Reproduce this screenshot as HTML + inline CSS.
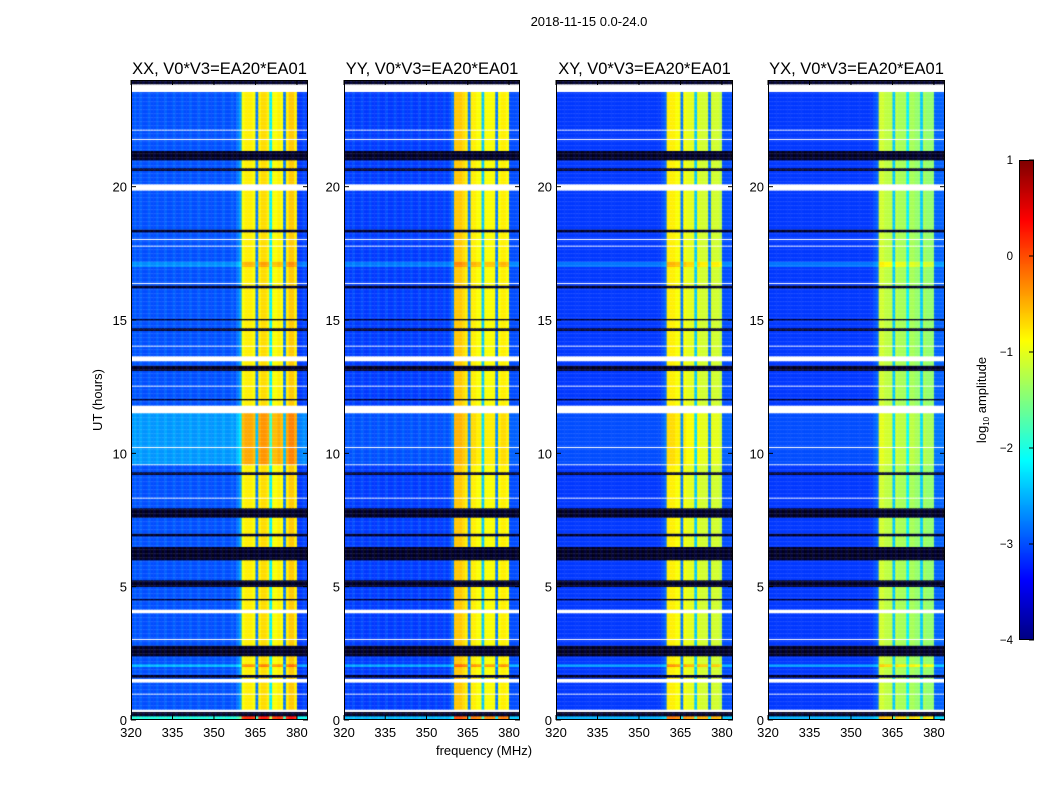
<!DOCTYPE html>
<html><head><meta charset="utf-8">
<style>
html,body{margin:0;padding:0;background:#fff;}
#wrap{position:relative;width:1050px;height:800px;overflow:hidden;font-family:"Liberation Sans","DejaVu Sans",sans-serif;}
canvas{position:absolute;}
svg{position:absolute;left:0;top:0;}
</style></head>
<body>
<div id="wrap">
<canvas id="c0" width="177" height="640" style="left:131px;top:80px"></canvas>
<canvas id="c1" width="176" height="640" style="left:344px;top:80px"></canvas>
<canvas id="c2" width="177" height="640" style="left:556px;top:80px"></canvas>
<canvas id="c3" width="177" height="640" style="left:768px;top:80px"></canvas>
<canvas id="cb" width="15" height="480" style="left:1019px;top:160px"></canvas>
<svg id="ov" width="1050" height="800"></svg>
</div>
<script>
// ---- data ----
const panelTitles = ["XX, V0*V3=EA20*EA01","YY, V0*V3=EA20*EA01","XY, V0*V3=EA20*EA01","YX, V0*V3=EA20*EA01"];
const xTicks = [320,335,350,365,380];
const yTicks = [0,5,10,15,20];
const cbTicks = [1,0,-1,-2,-3,-4];
const freqStart = 320, freqStep = 1, nChan = 64;
// channels 320..383
const levelXX = [-3.0,-2.9,-3.0,-2.9,-3.0,-3.0,-2.9,-3.0,-3.0,-2.9,-3.0,-3.0,-2.9,-3.0,-3.0,-2.9,-3.0,-3.0,-2.9,-3.0,-3.0,-2.9,-3.0,-3.0,-2.9,-3.0,-3.0,-2.9,-3.0,-3.0,-2.9,-3.0,-3.0,-2.9,-3.0,-3.0,-2.9,-3.0,-2.8,-2.6,
 -0.9,-0.8,-0.8,-0.8,-0.9,-2.8,-0.8,-0.7,-0.7,-0.8,-2.2,-0.9,-0.9,-0.8,-0.9,-2.8,-0.8,-0.6,-0.6,-0.8,-3.1,-3.1,-3.0,-3.1];
const levelYY = [-3.1,-3.0,-3.1,-3.0,-3.1,-3.1,-3.0,-3.1,-3.1,-3.0,-3.1,-3.1,-3.0,-3.1,-3.1,-3.0,-3.1,-3.1,-3.0,-3.1,-3.1,-3.0,-3.1,-3.1,-3.0,-3.1,-3.1,-3.0,-3.1,-3.1,-3.0,-3.1,-3.1,-3.0,-3.1,-3.1,-3.0,-3.1,-3.0,-2.8,
 -0.6,-0.6,-0.6,-0.7,-0.8,-2.8,-0.8,-0.8,-0.9,-0.9,-2.4,-0.9,-0.9,-0.9,-0.9,-2.8,-0.9,-0.8,-0.8,-0.9,-3.0,-3.0,-3.0,-3.0];
const levelXY = [-3.1,-3.1,-3.1,-3.1,-3.1,-3.1,-3.1,-3.1,-3.1,-3.1,-3.1,-3.1,-3.1,-3.1,-3.1,-3.1,-3.1,-3.1,-3.1,-3.1,-3.1,-3.1,-3.1,-3.1,-3.1,-3.1,-3.1,-3.1,-3.1,-3.1,-3.1,-3.1,-3.1,-3.1,-3.1,-3.1,-3.1,-3.1,-3.0,-2.9,
 -0.8,-0.8,-0.8,-0.9,-0.9,-2.8,-0.9,-1.0,-1.0,-1.0,-2.4,-1.0,-1.1,-1.1,-1.1,-2.8,-1.1,-1.1,-1.1,-1.2,-3.0,-3.0,-3.0,-3.0];
const levelYX = [-3.1,-3.1,-3.1,-3.1,-3.1,-3.1,-3.1,-3.1,-3.1,-3.1,-3.1,-3.1,-3.1,-3.1,-3.1,-3.1,-3.1,-3.1,-3.1,-3.1,-3.1,-3.1,-3.1,-3.1,-3.1,-3.1,-3.1,-3.1,-3.1,-3.1,-3.1,-3.1,-3.1,-3.1,-3.1,-3.1,-3.1,-3.1,-3.0,-2.9,
 -1.1,-1.1,-1.2,-1.2,-1.2,-2.4,-1.2,-1.3,-1.3,-1.3,-2.2,-1.3,-1.3,-1.4,-1.4,-2.4,-1.3,-1.4,-1.4,-1.4,-2.9,-2.9,-2.9,-2.9];
const panelLevels = [levelXX, levelYY, levelXY, levelYX];
const whiteIntervals = [[23.55,23.85],[22.1,22.17],[21.75,21.8],[19.85,20.1],[18.0,18.05],[17.75,17.8],[16.35,16.42],[14.0,14.05],[13.45,13.65],[12.5,12.55],[11.5,11.8],[10.2,10.26],[9.55,9.6],[8.3,8.35],[4.0,4.15],[3.0,3.05],[1.4,1.55],[0.95,1.0],[0.3,0.4]];
const darkIntervals = [[23.85,24],[21.0,21.35],[20.6,20.7],[18.3,18.4],[16.2,16.3],[15.0,15.05],[14.6,14.7],[13.1,13.3],[12.0,12.05],[9.2,9.3],[7.6,7.95],[6.9,7.0],[6.0,6.5],[5.0,5.25],[4.5,4.55],[2.4,2.8],[1.6,1.7],[0.15,0.3]];
const rowShiftsXX = [[9.6,11.5,0.35],[0.0,0.15,1.0],[2.0,2.1,0.5],[17.0,17.2,0.3]];
const rowShiftsOther = [[9.6,11.5,0.1],[0.0,0.15,0.6],[2.0,2.1,0.5],[17.0,17.2,0.3]];
const panelShifts = [rowShiftsXX, rowShiftsOther, rowShiftsOther, rowShiftsOther];
const tStart = 0, tEnd = 24, tStep = 0.05;

function jet(v){
  let t=(v+4)/5; t=Math.max(0,Math.min(1,t));
  const f=x=>Math.max(0,Math.min(1,x));
  const r=f(1.5-Math.abs(4*t-3)), g=f(1.5-Math.abs(4*t-2)), b=f(1.5-Math.abs(4*t-1));
  return `rgb(${Math.round(r*255)},${Math.round(g*255)},${Math.round(b*255)})`;
}
function inAny(list,t){return list.some(iv=>t>=iv[0]&&t<iv[1]);}
function shiftAt(list,t){let s=0;list.forEach(iv=>{if(t>=iv[0]&&t<iv[1])s+=iv[2];});return s;}

const panelX=[131,344,556,768], panelW=[177,176,177,177], topY=80, H=640;
const xScale=(i,f)=>(f-320)*panelW[i]/64;
const yScale=t=>H-(t-tStart)/(tEnd-tStart)*H;

panelLevels.forEach((lv,i)=>{
  const ctx=document.getElementById('c'+i).getContext('2d');
  const nRows=Math.round((tEnd-tStart)/tStep);
  for(let r=0;r<nRows;r++){
    const t0=tStart+r*tStep, tm=t0+tStep/2;
    const y1=yScale(t0+tStep), y0=yScale(t0);
    if(inAny(whiteIntervals,tm)) continue;
    const dark=inAny(darkIntervals,tm);
    const sh=shiftAt(panelShifts[i],tm);
    for(let c=0;c<nChan;c++){
      const f=freqStart+c*freqStep;
      const x0=xScale(i,f), x1=xScale(i,f+freqStep);
      ctx.fillStyle = dark ? (c%2? '#000018':'#00003a') : jet(lv[c]+sh);
      ctx.fillRect(x0,y1,x1-x0+0.5,y0-y1+0.3);
    }
  }
});
(function(){const ctx=document.getElementById('cb').getContext('2d');
for(let y=0;y<480;y++){ctx.fillStyle=jet(1-y/480*5);ctx.fillRect(0,y,15,1);}})();

const NS='http://www.w3.org/2000/svg', svg=document.getElementById('ov');
function el(tag,attrs,text){const e=document.createElementNS(NS,tag);for(const k in attrs)e.setAttribute(k,attrs[k]);if(text!==undefined)e.textContent=text;svg.appendChild(e);return e;}
let e;
e=el('text',{x:589,y:26,'font-size':13,'text-anchor':'middle',fill:'#000'},'2018-11-15 0.0-24.0');


panelTitles.forEach((ttl,i)=>{
  const x0=panelX[i], w=panelW[i];
  e=el('text',{x:x0+w/2,y:74,'font-size':16.5,'text-anchor':'middle',fill:'#000'},ttl);
  
  
  e=el('rect',{x:x0+0.5,y:topY+0.5,width:w-1,height:H-1,fill:'none',stroke:'#000','stroke-width':1});
  
  
  xTicks.forEach(f=>{
    const x=x0+xScale(i,f);
    e=el('line',{x1:x,x2:x,y1:topY+H,y2:topY+H-5,stroke:'#000'});
    
    
    el('line',{x1:x,x2:x,y1:topY,y2:topY+5,stroke:'#000'});
    e=el('text',{x:x,y:topY+H+17,'font-size':13,'text-anchor':'middle',fill:'#000'},String(f));
    
    
  });
  yTicks.forEach(t=>{
    const y=topY+yScale(t);
    e=el('line',{x1:x0,x2:x0+5,y1:y,y2:y,stroke:'#000'});
    
    
    el('line',{x1:x0+w,x2:x0+w-5,y1:y,y2:y,stroke:'#000'});
    e=el('text',{x:x0-4,y:y+5,'font-size':13,'text-anchor':'end',fill:'#000'},String(t));
    
    
  });
});
e=el('text',{x:484,y:755,'font-size':13,'text-anchor':'middle',fill:'#000'},'frequency (MHz)');


e=el('text',{x:0,y:0,'font-size':13,'text-anchor':'middle',fill:'#000',transform:'translate(102,400) rotate(-90)'},'UT (hours)');


e=el('rect',{x:1019.5,y:160.5,width:14,height:479,fill:'none',stroke:'#000'});


cbTicks.forEach(v=>{
  const y=160+(1-v)/5*480;
  el('line',{x1:1034,x2:1029,y1:y,y2:y,stroke:'#000'});
  e=el('text',{x:1013,y:y+4,'font-size':11.5,'text-anchor':'end',fill:'#000'},v<0?'\u2212'+(-v):String(v));
  
  
});
e=el('text',{x:0,y:0,'font-size':13,'text-anchor':'middle',fill:'#000',transform:'translate(986,400) rotate(-90)'});


e.innerHTML='log<tspan font-size="8" dy="3">10</tspan><tspan dy="-3"> amplitude</tspan>';
</script>
</body></html>
